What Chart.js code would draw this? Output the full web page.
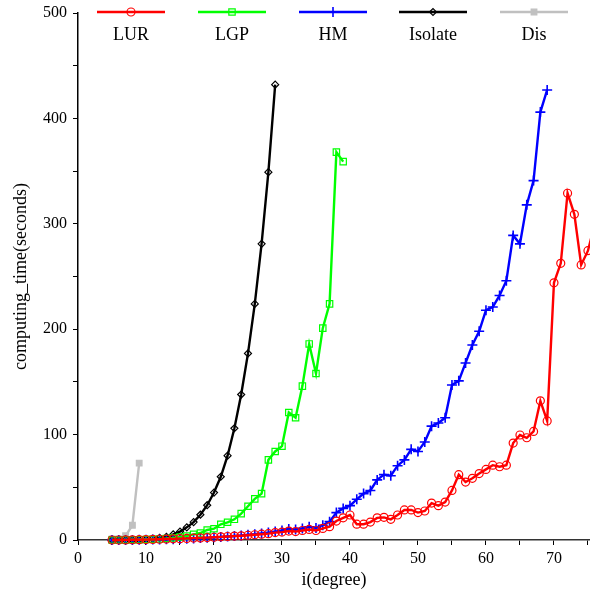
<!DOCTYPE html>
<html>
<head>
<meta charset="utf-8">
<script src="https://cdn.jsdelivr.net/npm/chart.js@4/dist/chart.umd.min.js"></script>
<style>
  html, body { margin: 0; padding: 0; background: #ffffff; }
  #chart { display: block; }
</style>
</head>
<body>
<canvas id="chart" width="590" height="594"></canvas>
<script>
// every series starts at i = 5 and goes up by one degree per value
const FIRST_DEGREE = 5;

const LUR = [0, 0, 0.1, 0.2, 0.3, 0.4, 0.5, 0.7, 0.9, 1.1, 1.3, 1.5, 1.8, 2, 2.3, 2.6,
  3, 3.3, 3.7, 4, 4.5, 5, 5.5, 6, 7, 7.5, 8.5, 8, 9, 10, 9, 11, 12.6, 18, 21, 23.7,
  15, 15, 17, 21, 21.5, 19.6, 23.7, 28.5, 28.5, 26, 27.5, 35, 32.6, 36, 47, 62, 55,
  58.5, 63, 67, 71, 69.5, 71, 92, 99.6, 97, 103, 132, 113, 244, 262.5, 329, 309,
  261, 274.5, 300];

const LGP = [0, 0, 0.1, 0.2, 0.3, 0.5, 0.7, 1, 1.4, 2, 2.8, 3.8, 5.4, 6.6, 9.5, 10.7,
  14.9, 16.8, 19.6, 25, 32, 39, 44, 76, 84, 89, 121, 116, 146, 186, 158, 201, 224,
  368, 359];

const HM = [0, 0, 0.1, 0.1, 0.2, 0.3, 0.4, 0.5, 0.6, 0.8, 1, 1.2, 1.5, 1.8, 2.1, 2.5,
  2.9, 3.3, 3.8, 4.3, 5, 5.5, 6.2, 7, 8, 9, 10.5, 10, 11, 12.5, 11.5, 14, 17.4, 26,
  30, 32.6, 38.6, 44, 47, 57, 62, 61, 70.5, 76, 86, 84, 93, 108, 111, 116, 147, 151,
  168, 185, 198, 218, 221, 232, 246, 289, 281, 318, 341, 406, 427];

const ISOLATE = [0, 0, 0.1, 0.2, 0.3, 0.5, 1, 2, 3, 5.4, 8, 12, 17, 24, 33, 45, 60,
  80, 106, 138, 177, 224, 281, 349, 432];

const DIS = [1, 1, 4, 14, 73];

const SERIES_NAMES = ['LUR', 'LGP', 'HM', 'Isolate', 'Dis'];
const SERIES_VALUES = [LUR, LGP, HM, ISOLATE, DIS];
const SERIES_COLORS = ['#ff0000', '#00ff00', '#0000ff', '#000000', '#c0c0c0'];
const POINT_STYLES = ['circle', 'rect', 'cross', 'rectRot', 'rect'];
const POINT_RADII = [4, 4.5, 5, 3.5, 4];

const X_MAX = 75.3;
const Y_MAX = 500;

const FONT = '"Liberation Serif", "Times New Roman", serif';

function toPoints(values) {
  return values.map((v, i) => ({ x: FIRST_DEGREE + i, y: v }));
}

const datasets = SERIES_NAMES.map((name, i) => {
  const filled = name === 'Dis';
  return {
    label: name,
    data: toPoints(SERIES_VALUES[i]),
    borderColor: SERIES_COLORS[i],
    backgroundColor: filled ? SERIES_COLORS[i] : 'rgba(0,0,0,0)',
    borderWidth: 2.4,
    pointStyle: POINT_STYLES[i],
    pointRadius: POINT_RADII[i],
    pointBorderWidth: name === 'HM' ? 1.6 : 1.2,
    pointBorderColor: SERIES_COLORS[i],
    pointBackgroundColor: filled ? SERIES_COLORS[i] : 'rgba(0,0,0,0)',
    tension: 0,
    clip: false,
  };
});

// legend with the sample line on top and the name under it
const topLegend = {
  id: 'topLegend',
  afterDraw(chart) {
    const ctx = chart.ctx;
    const centers = [131, 232, 333, 433, 534];
    ctx.save();
    chart.data.datasets.forEach((ds, i) => {
      const cx = centers[i];
      const y = 12;
      ctx.strokeStyle = ds.borderColor;
      ctx.lineWidth = 2.4;
      ctx.beginPath();
      ctx.moveTo(cx - 34, y);
      ctx.lineTo(cx + 34, y);
      ctx.stroke();

      ctx.fillStyle = ds.pointBackgroundColor;
      ctx.strokeStyle = ds.pointBorderColor;
      ctx.lineWidth = ds.pointBorderWidth;
      Chart.helpers.drawPoint(ctx, {
        pointStyle: ds.pointStyle,
        radius: ds.pointRadius,
        rotation: 0,
        borderWidth: ds.pointBorderWidth,
      }, cx, y);

      ctx.fillStyle = '#000000';
      ctx.font = '18px ' + FONT;
      ctx.textAlign = 'center';
      ctx.textBaseline = 'middle';
      ctx.fillText(ds.label, cx, 35);
    });
    ctx.restore();
  }
};

new Chart(document.getElementById('chart'), {
  type: 'line',
  data: { datasets },
  plugins: [topLegend],
  options: {
    responsive: false,
    animation: false,
    layout: { autoPadding: false, padding: { top: 13, right: 0, left: 0, bottom: 0 } },
    plugins: {
      legend: { display: false },
      tooltip: { enabled: false },
    },
    scales: {
      x: {
        type: 'linear',
        min: 0,
        max: X_MAX,
        afterFit: (scale) => {
          scale.height = 54;
          scale.paddingLeft = 0;
          scale.paddingRight = 0;
        },
        border: { display: true, color: '#333333', width: 1.5 },
        grid: { display: true, drawOnChartArea: false, drawTicks: true, tickLength: 5, tickColor: '#000000' },
        ticks: {
          stepSize: 5,
          includeBounds: false,
          maxRotation: 0,
          autoSkip: false,
          padding: 4,
          color: '#000000',
          font: { family: FONT, size: 16 },
          callback: (v) => (v % 10 === 0 ? String(v) : ''),
        },
        title: {
          display: true,
          text: 'i(degree)',
          color: '#000000',
          font: { family: FONT, size: 18 },
          padding: { top: 0, bottom: 3 },
        },
      },
      y: {
        min: 0,
        max: Y_MAX,
        afterFit: (scale) => {
          scale.width = 78;
          scale.paddingTop = 0;
          scale.paddingBottom = 0;
        },
        border: { display: true, color: '#000000', width: 1.5 },
        grid: { display: true, drawOnChartArea: false, drawTicks: true, tickLength: 5, tickColor: '#000000' },
        ticks: {
          stepSize: 50,
          autoSkip: false,
          padding: 6,
          color: '#000000',
          font: { family: FONT, size: 16 },
          callback: (v) => (v % 100 === 0 ? String(v) : ''),
        },
        title: {
          display: true,
          text: 'computing_time(seconds)',
          color: '#000000',
          font: { family: FONT, size: 18 },
          padding: { top: 10, bottom: 0 },
        },
      },
    },
  },
});
</script>
</body>
</html>
